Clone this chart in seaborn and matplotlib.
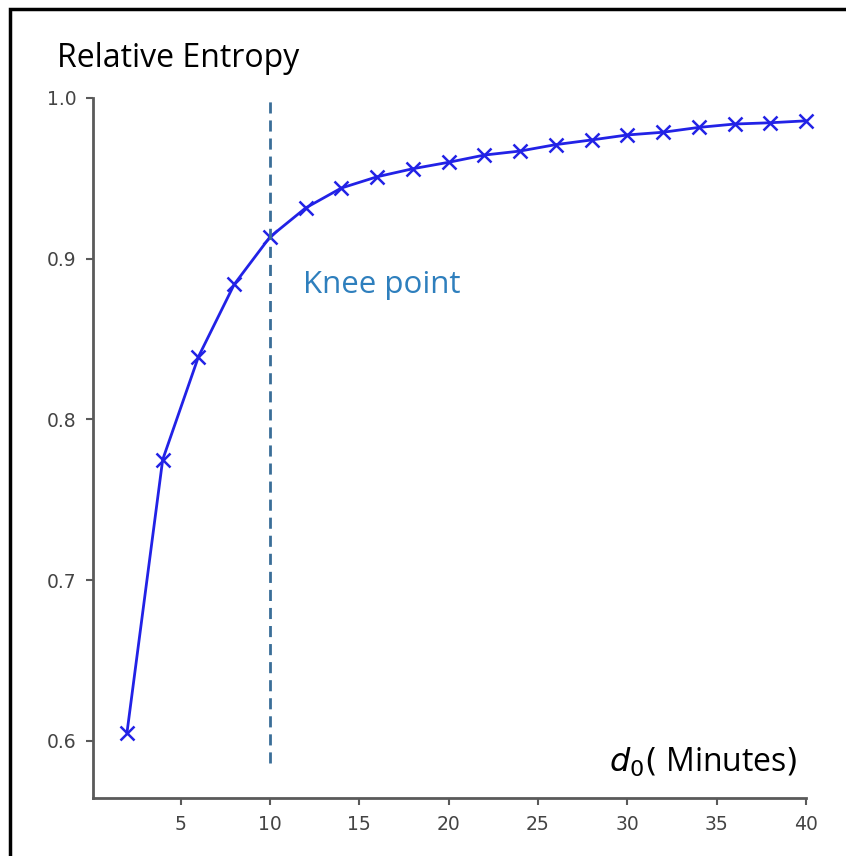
import matplotlib
matplotlib.use("Agg")
import matplotlib.pyplot as plt
import seaborn as sns
import pandas as pd
from matplotlib.patches import Rectangle

d0_minutes = [2, 4, 6, 8, 10, 12, 14, 16, 18, 20, 22, 24, 26, 28, 30, 32, 34, 36, 38, 40]
relative_entropy = [0.605, 0.775, 0.839, 0.884, 0.9135, 0.9316, 0.944, 0.951, 0.956, 0.960,
                    0.9645, 0.967, 0.971, 0.9739, 0.977, 0.9787, 0.9817, 0.9838, 0.9846, 0.9858]
x_ticks = [5, 10, 15, 20, 25, 30, 35, 40]
y_ticks = [0.6, 0.7, 0.8, 0.9, 1.0]
knee_x = 10

sns.set_style("white")
plt.rcParams['font.family'] = ['DejaVu Sans']

fig = plt.figure(figsize=(8.46, 8.56), dpi=100)
ax = fig.add_axes([93/846, 1-798/856, (806-93)/846, (798-98)/856])

df = pd.DataFrame({"d0": d0_minutes, "re": relative_entropy})
sns.lineplot(data=df, x="d0", y="re", ax=ax, color="#2222e6", linewidth=2,
             marker="x", markersize=9.5, markeredgewidth=1.8, markeredgecolor="#2222e6",
             clip_on=False)

ax.set_xlim(0.1, 40)
ax.set_ylim(0.5645, 1.0)
ax.vlines(knee_x, 0.586, 1.0, colors="#3a6e98", linestyles=(0, (4, 2.5)), linewidth=2)

ax.set_xticks(x_ticks)
ax.set_yticks(y_ticks)
ax.set_yticklabels([f"{v:.1f}" for v in y_ticks])
ax.set_xlabel("")
ax.set_ylabel("")
for s in ["top", "right"]:
    ax.spines[s].set_visible(False)
for s in ["left", "bottom"]:
    ax.spines[s].set_color("#5a5a5a")
    ax.spines[s].set_linewidth(2)
ax.tick_params(axis="both", which="both", direction="out", length=5, width=1.5,
               color="#5a5a5a", labelcolor="#444444", labelsize=13.5, pad=7,
               bottom=True, left=True)

txtfam = ["Open Sans", "DejaVu Sans"]
fig.text(57/846, 1-67/856, "Relative Entropy", fontsize=23, family=txtfam,
         color="black", ha="left", va="baseline")
fig.text(303/846, 1-293/856, "Knee point", fontsize=22.5, family=txtfam,
         color="#2e7fbd", ha="left", va="baseline")
fig.text(798/846, 1-772/856, r"$d_{\mathit{0}}$$\mathit{(}$ Minutes$\mathit{)}$", fontsize=23,
         family=txtfam, color="black", ha="right", va="baseline")

fig.patches.append(Rectangle((10/846, -0.2), 1.5, 1.2 - 9/856, transform=fig.transFigure,
                             fill=False, edgecolor="black", linewidth=2.5, zorder=10))

fig.savefig("out.png", dpi=100)
